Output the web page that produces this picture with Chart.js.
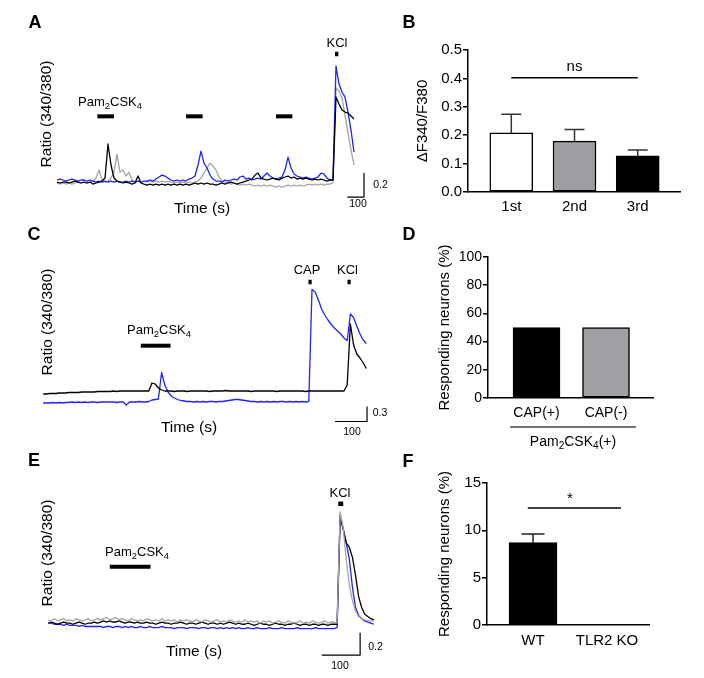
<!DOCTYPE html>
<html>
<head>
<meta charset="utf-8">
<script src="https://cdn.jsdelivr.net/npm/chart.js@4.4.0/dist/chart.umd.min.js"></script>
<style>
  body { margin: 0; background: #fff; width: 704px; height: 678px; position: relative; overflow: hidden; }
  canvas { position: absolute; }
</style>
</head>
<body>
<canvas id="cA" width="395" height="222" style="left:0;top:0"></canvas>
<canvas id="cB" width="309" height="225" style="left:395px;top:0"></canvas>
<canvas id="cC" width="395" height="223" style="left:0;top:222px"></canvas>
<canvas id="cD" width="309" height="225" style="left:395px;top:225px"></canvas>
<canvas id="cE" width="395" height="233" style="left:0;top:445px"></canvas>
<canvas id="cF" width="309" height="228" style="left:395px;top:450px"></canvas>
<script>
// ---- A: repeated Pam2CSK4 then KCl, ratio 340/380, one sample every 18 s
const stepA = 18;
const aBlue = [
  0.817,0.825,0.817,0.808,0.817,0.825,0.817,0.808,0.817,0.817,
  0.808,0.817,0.808,0.800,0.808,0.800,0.808,0.800,0.808,0.800,
  0.808,0.800,0.800,0.808,0.800,0.808,0.800,0.808,0.800,0.808,
  0.808,0.817,0.808,0.825,0.842,0.858,0.850,0.833,0.817,0.808,
  0.817,0.808,0.817,0.808,0.825,0.833,0.850,0.942,1.058,0.958,
  0.917,0.858,0.825,0.808,0.808,0.800,0.817,0.808,0.817,0.825,
  0.817,0.842,0.850,0.825,0.833,0.817,0.825,0.833,0.825,0.850,
  0.875,0.850,0.833,0.825,0.833,0.842,0.900,1.008,0.917,0.867,
  0.850,0.842,0.833,0.842,0.833,0.825,0.833,0.842,0.875,0.867,
  0.833,0.817,0.817,1.767,1.617,1.550,1.508,1.383,1.233,1.050];
const aBlack = [
  0.800,0.792,0.800,0.800,0.792,0.800,0.808,0.800,0.792,0.800,
  0.792,0.800,0.783,0.792,0.800,0.808,0.833,1.117,0.942,0.833,
  0.808,0.800,0.792,0.800,0.792,0.783,0.792,0.850,0.792,0.783,
  0.775,0.783,0.775,0.783,0.775,0.783,0.775,0.783,0.775,0.783,
  0.775,0.783,0.775,0.783,0.775,0.783,0.792,0.783,0.792,0.783,
  0.792,0.783,0.783,0.775,0.783,0.792,0.783,0.792,0.800,0.792,
  0.783,0.792,0.800,0.808,0.817,0.825,0.858,0.875,0.833,0.825,
  0.817,0.825,0.833,0.825,0.817,0.833,0.842,0.850,0.833,0.842,
  0.825,0.833,0.825,0.833,0.825,0.817,0.825,0.817,0.825,0.817,
  0.808,0.817,0.817,1.508,1.450,1.400,1.383,1.375,1.350,1.325];
const aGray = [
  0.792,0.783,0.792,0.783,0.792,0.783,0.792,0.800,0.792,0.800,
  0.792,0.800,0.808,0.833,0.900,0.817,0.800,0.808,0.833,0.883,
  1.033,0.883,0.900,0.850,0.883,0.817,0.800,0.808,0.800,0.808,
  0.800,0.808,0.800,0.808,0.800,0.808,0.800,0.808,0.800,0.792,
  0.800,0.792,0.800,0.792,0.800,0.792,0.800,0.808,0.833,0.875,
  0.917,0.958,0.933,0.900,0.842,0.808,0.800,0.792,0.783,0.792,
  0.783,0.775,0.783,0.775,0.783,0.775,0.767,0.775,0.767,0.775,
  0.767,0.775,0.767,0.758,0.767,0.758,0.767,0.775,0.767,0.775,
  0.767,0.775,0.767,0.775,0.783,0.775,0.783,0.775,0.783,0.775,
  0.783,0.783,0.792,1.583,1.558,1.500,1.358,1.208,1.067,0.942];
const pamA = [[242, 342], [774, 874], [1314, 1412]];  // s
const kclA = [[1668, 1688]];
const scaleA = [100, 0.2];

// ---- B: peak amplitude per application
const catsB = ['1st', '2nd', '3rd'];
const meanB = [0.208, 0.179, 0.127];
const semB = [0.066, 0.041, 0.021];

// ---- C: Pam2CSK4, capsaicin, KCl; one sample every 10 s
const stepC = 10;
const cBlue = [
  0.56,0.56,0.56,0.57,0.56,0.57,0.56,0.57,0.57,0.58,
  0.57,0.58,0.57,0.58,0.57,0.58,0.58,0.57,0.58,0.58,
  0.58,0.58,0.58,0.57,0.58,0.58,0.52,0.58,0.58,0.58,
  0.59,0.58,0.58,0.59,0.62,0.63,0.64,1.17,0.92,0.78,
  0.70,0.66,0.63,0.61,0.60,0.59,0.59,0.58,0.59,0.58,
  0.59,0.58,0.59,0.59,0.58,0.59,0.59,0.60,0.61,0.62,
  0.63,0.63,0.62,0.61,0.60,0.59,0.59,0.58,0.59,0.58,
  0.59,0.58,0.59,0.58,0.59,0.59,0.58,0.59,0.58,0.59,
  0.58,0.59,0.58,0.59,2.83,2.78,2.62,2.44,2.32,2.22,
  2.13,2.06,2.00,1.94,1.86,1.81,2.34,2.27,2.10,1.94,
  1.82,1.75];
const cBlack = [
  0.74,0.74,0.75,0.75,0.75,0.76,0.76,0.76,0.77,0.77,
  0.77,0.77,0.78,0.78,0.78,0.78,0.78,0.79,0.79,0.79,
  0.79,0.79,0.80,0.79,0.80,0.80,0.80,0.80,0.80,0.80,
  0.80,0.80,0.80,0.80,0.96,0.94,0.86,0.82,0.80,0.80,
  0.80,0.79,0.80,0.80,0.80,0.79,0.80,0.80,0.80,0.80,
  0.80,0.80,0.79,0.80,0.80,0.80,0.80,0.81,0.80,0.80,
  0.80,0.80,0.80,0.80,0.80,0.79,0.80,0.80,0.80,0.80,
  0.80,0.80,0.80,0.79,0.80,0.80,0.80,0.80,0.80,0.80,
  0.80,0.80,0.79,0.80,0.80,0.80,0.80,0.80,0.80,0.80,
  0.80,0.80,0.80,0.80,0.80,0.92,2.14,1.72,1.54,1.46,
  1.36,1.25];
const pamC = [[305, 398]];
const capC = [829, 839];
const kclC = [951, 961];
const scaleC = [100, 0.3];

// ---- D: share of Pam2CSK4 responders by capsaicin sensitivity
const catsD = ['CAP(+)', 'CAP(-)'];
const valsD = [50, 50];

// ---- E: TLR2 KO, one sample every 8 s
const stepE = 8;
const eBlack = [
  0.79,0.80,0.79,0.78,0.79,0.80,0.79,0.79,0.78,0.79,0.80,0.79,0.78,0.79,0.79,0.80,0.79,
  0.80,0.81,0.80,0.81,0.80,0.80,0.81,0.80,0.79,0.80,0.80,0.79,0.80,0.79,
  0.79,0.80,0.79,0.79,0.78,0.79,0.80,0.79,0.79,0.78,0.79,0.79,0.80,0.79,0.78,
  0.79,0.79,0.78,0.79,0.80,0.79,0.78,0.79,0.79,0.78,0.79,0.78,0.79,0.80,0.79,
  0.78,0.79,0.78,0.78,0.79,0.78,0.77,0.78,0.79,0.78,0.78,0.77,0.78,0.79,0.78,0.78,0.77,
  0.78,0.78,0.79,0.78,0.77,0.78,0.78,0.77,0.78,0.78,0.77,0.78,0.78,0.77,0.78,0.78,0.78,
  1.76,1.63,1.51,1.47,1.38,1.22,1.03,0.93,0.87,0.85,0.83,0.82];
const eBlue = [
  0.79,0.79,0.78,0.78,0.78,0.77,0.78,0.77,0.77,0.77,0.76,0.77,0.76,0.76,0.76,0.76,0.76,
  0.76,0.75,0.76,0.76,0.75,0.76,0.76,0.75,0.76,0.75,0.76,0.75,0.75,0.76,
  0.75,0.75,0.76,0.75,0.75,0.75,0.76,0.75,0.75,0.75,0.74,0.75,0.75,0.75,0.74,
  0.75,0.75,0.75,0.74,0.75,0.75,0.74,0.75,0.75,0.74,0.75,0.74,0.75,0.74,0.75,
  0.74,0.75,0.74,0.74,0.75,0.74,0.74,0.75,0.74,0.74,0.74,0.75,0.74,0.74,0.74,0.75,0.74,
  0.74,0.74,0.74,0.75,0.74,0.74,0.74,0.74,0.74,0.75,0.74,0.74,0.74,0.74,0.74,0.74,0.75,
  1.73,1.63,1.51,1.36,1.11,0.93,0.86,0.83,0.81,0.80,0.79,0.78];
const eGray = [
  0.82,0.81,0.83,0.81,0.82,0.83,0.81,0.82,0.81,0.83,0.82,0.81,0.82,0.83,0.81,0.82,0.83,
  0.82,0.83,0.84,0.82,0.83,0.84,0.82,0.83,0.82,0.81,0.83,0.82,0.81,0.82,
  0.81,0.83,0.82,0.81,0.82,0.81,0.83,0.81,0.82,0.81,0.82,0.80,0.82,0.81,0.82,
  0.81,0.80,0.82,0.81,0.80,0.82,0.81,0.80,0.81,0.82,0.80,0.81,0.80,0.82,0.81,
  0.80,0.81,0.80,0.82,0.80,0.81,0.80,0.81,0.79,0.81,0.80,0.81,0.79,0.80,0.81,0.80,0.79,
  0.81,0.80,0.79,0.80,0.81,0.79,0.80,0.79,0.81,0.80,0.79,0.80,0.81,0.79,0.80,0.80,0.79,
  1.79,1.64,1.36,1.13,0.99,0.90,0.85,0.83,0.82,0.81,0.81,0.81];
const pamE = [[160, 266]];
const kclE = [[755, 768]];
const scaleE = [100, 0.2];

// ---- F: responders WT vs TLR2 KO
const catsF = ['WT', 'TLR2 KO'];
const meanF = [8.7, 0];
const semF = [0.9, 0];

const FONT = '"Liberation Sans", Arial, Helvetica, sans-serif';
const BLUE = '#2222ff', GRAY = '#a4a4a4', BLACK = '#000000';
Chart.defaults.font.family = FONT;
Chart.defaults.color = '#000';

const PAM = [['Pam', 0], ['2', 1], ['CSK', 0], ['4', 1]];

function drawParts(ctx, parts, size, bold) {
  const fontFor = sub => (bold ? 'bold ' : '') + (sub ? size * 0.72 : size) + 'px ' + FONT;
  let w = 0;
  parts.forEach(([s, sub]) => { ctx.font = fontFor(sub); w += ctx.measureText(s).width; });
  let x = -w / 2;
  ctx.textAlign = 'left';
  ctx.textBaseline = 'middle';
  parts.forEach(([s, sub]) => {
    ctx.font = fontFor(sub);
    ctx.fillText(s, x, sub ? size * 0.32 : 0);
    x += ctx.measureText(s).width;
  });
}

// free text (panel letters, drug names, scale labels)
const notes = {
  id: 'notes',
  afterDraw(chart, args, opts) {
    const ctx = chart.ctx;
    (opts.items || []).forEach(it => {
      ctx.save();
      ctx.fillStyle = '#000';
      ctx.translate(it.x, it.y);
      if (it.rot) ctx.rotate(-Math.PI / 2);
      drawParts(ctx, it.parts || [[it.t, 0]], it.size || 13, it.bold);
      ctx.restore();
    });
  }
};

// SEM bars, upward only
const errBars = {
  id: 'errbar',
  afterDatasetsDraw(chart, args, opts) {
    if (!opts.sem) return;
    const { ctx, scales: { x, y } } = chart;
    ctx.save();
    ctx.strokeStyle = opts.color || '#000';
    ctx.lineWidth = 1.5;
    opts.sem.forEach((e, i) => {
      if (!e) return;
      const px = x.getPixelForValue(i + 1);
      const y0 = y.getPixelForValue(opts.mean[i]);
      const y1 = y.getPixelForValue(opts.mean[i] + e);
      ctx.beginPath();
      ctx.moveTo(px, y0); ctx.lineTo(px, y1);
      ctx.moveTo(px - opts.cap / 2, y1); ctx.lineTo(px + opts.cap / 2, y1);
      ctx.stroke();
    });
    ctx.restore();
  }
};

// comparison lines and group brackets
const sigLines = {
  id: 'sig',
  afterDatasetsDraw(chart, args, opts) {
    const { ctx, scales: { x, y }, chartArea } = chart;
    (opts.lines || []).forEach(l => {
      const x0 = x.getPixelForValue(l.from), x1 = x.getPixelForValue(l.to);
      const py = l.below != null ? chartArea.bottom + l.below : y.getPixelForValue(l.y);
      ctx.save();
      ctx.strokeStyle = l.color || '#000';
      ctx.lineWidth = 1.5;
      ctx.beginPath(); ctx.moveTo(x0, py); ctx.lineTo(x1, py); ctx.stroke();
      ctx.fillStyle = '#000';
      ctx.translate(x.getPixelForValue(l.labelX), py + l.dy);
      drawParts(ctx, l.parts, l.size || 15);
      ctx.restore();
    });
  }
};

function traceChart(p) {
  const line = (pts, color, w) => ({
    data: pts, borderColor: color, borderWidth: w, pointRadius: 0,
    tension: 0, borderCapStyle: 'butt', borderJoinStyle: 'round'
  });
  const ds = p.traces.map(([vals, color]) =>
    line(vals.map((v, i) => ({ x: i * p.step, y: v })), color, 1.3));
  p.stims.forEach(([t0, t1]) => ds.push(line([{ x: t0, y: p.stimY }, { x: t1, y: p.stimY }], '#000', 4)));
  p.marks.forEach(([t0, t1]) => ds.push(line([{ x: t0, y: p.markY }, { x: t1, y: p.markY }], '#000', 4.5)));
  const [dt, dr] = p.bar.len;
  ds.push(line([
    { x: p.bar.x0, y: p.bar.y0 },
    { x: p.bar.x0 + dt, y: p.bar.y0 },
    { x: p.bar.x0 + dt, y: p.bar.y0 + dr }
  ], '#000', 1.2));

  new Chart(document.getElementById(p.id), {
    type: 'line',
    data: { datasets: ds },
    options: {
      responsive: false, animation: false, devicePixelRatio: 1, events: [],
      layout: { padding: 0 },
      scales: {
        x: { type: 'linear', display: false, min: p.xMin, max: p.xMax },
        y: { type: 'linear', display: false, min: p.yMin, max: p.yMax }
      },
      plugins: { legend: { display: false }, tooltip: { enabled: false }, notes: { items: p.items } }
    },
    plugins: [notes]
  });
}

function barChart(p) {
  new Chart(document.getElementById(p.id), {
    type: 'bar',
    data: {
      datasets: [{
        data: p.vals.map((v, i) => ({ x: i + 1, y: v })),
        backgroundColor: p.colors, borderColor: '#000', borderWidth: 1.5,
        barThickness: p.barW, borderSkipped: false
      }]
    },
    options: {
      responsive: false, animation: false, devicePixelRatio: 1, events: [],
      layout: { padding: p.pad },
      scales: {
        x: {
          type: 'linear', offset: false, min: p.xMin, max: p.xMax,
          afterBuildTicks: s => { s.ticks = p.cats.map((c, i) => ({ value: i + 1 })); },
          afterFit: s => { s.height = p.xH; },
          grid: { display: false, drawTicks: false },
          border: { color: '#000', width: 1.5 },
          ticks: { autoSkip: false, maxRotation: 0, padding: p.xPad, font: { size: p.xFont },
                   callback: (v, i) => p.cats[i] }
        },
        y: {
          min: 0, max: p.yMax,
          afterFit: s => { s.width = p.yW; },
          ticks: { stepSize: p.yStep, padding: 1, font: { size: p.yFont }, callback: p.yFmt },
          grid: { drawOnChartArea: false, tickLength: 5, color: '#000', lineWidth: 1.5 },
          border: { color: '#000', width: 1.5 },
          title: { display: true, text: p.yTitle, font: { size: 15 }, padding: { top: 4, bottom: 0 } }
        }
      },
      plugins: {
        legend: { display: false }, tooltip: { enabled: false },
        notes: { items: p.items },
        errbar: { mean: p.vals, sem: p.sem, cap: p.cap, color: p.errColor },
        sig: { lines: p.sig }
      }
    },
    plugins: [errBars, sigLines, notes]
  });
}

traceChart({
  id: 'cA', step: stepA, xMin: -342, xMax: 2028, yMin: 0.467, yMax: 2.317,
  traces: [[aBlack, BLACK], [aBlue, BLUE], [aGray, GRAY]],
  stims: pamA, stimY: 1.3475, marks: kclA, markY: 1.867,
  bar: { x0: 1742, y0: 0.675, len: scaleA },
  items: [
    { t: 'A', x: 35, y: 23, size: 18, bold: true },
    { t: 'KCl', x: 337, y: 43 },
    { parts: PAM, x: 110, y: 102 },
    { t: 'Time (s)', x: 202, y: 209, size: 15.5 },
    { t: '0.2', x: 380.5, y: 185, size: 10.5 },
    { t: '100', x: 358, y: 204.5, size: 10.5 },
    { t: 'Ratio (340/380)', x: 47, y: 114, size: 15.5, rot: true }
  ]
});

traceChart({
  id: 'cC', step: stepC, xMin: -135, xMax: 1099.4, yMin: -0.28, yMax: 4.18,
  traces: [[cBlack, BLACK], [cBlue, BLUE]],
  stims: pamC, stimY: 1.706, marks: [capC, kclC], markY: 2.98,
  bar: { x0: 912, y0: 0.19, len: scaleC },
  items: [
    { t: 'C', x: 34, y: 13, size: 18, bold: true },
    { t: 'CAP', x: 307, y: 48 },
    { t: 'KCl', x: 347.5, y: 48 },
    { parts: PAM, x: 159, y: 108 },
    { t: 'Time (s)', x: 189, y: 206, size: 15.5 },
    { t: '0.3', x: 380, y: 191, size: 10.5 },
    { t: '100', x: 352, y: 210.5, size: 10.5 },
    { t: 'Ratio (340/380)', x: 48, y: 100, size: 15.5, rot: true }
  ]
});

traceChart({
  id: 'cE', step: stepE, xMin: -125.8, xMax: 902.8, yMin: 0.298, yMax: 2.3875,
  traces: [[eGray, GRAY], [eBlack, BLACK], [eBlue, BLUE]],
  stims: pamE, stimY: 1.296, marks: kclE, markY: 1.86,
  bar: { x0: 712, y0: 0.504, len: scaleE },
  items: [
    { t: 'E', x: 34, y: 16, size: 18, bold: true },
    { t: 'KCl', x: 340, y: 48 },
    { parts: PAM, x: 137, y: 107 },
    { t: 'Time (s)', x: 194, y: 207, size: 15.5 },
    { t: '0.2', x: 375.5, y: 202, size: 10.5 },
    { t: '100', x: 340, y: 221, size: 10.5 },
    { t: 'Ratio (340/380)', x: 48, y: 108, size: 15.5, rot: true }
  ]
});

barChart({
  id: 'cB', cats: catsB, vals: meanB, sem: semB, colors: ['#ffffff', '#9f9fa3', '#000000'],
  pad: { left: 15, top: 50, right: 24, bottom: 0 }, yW: 58, xH: 33,
  xMin: 0.315, xMax: 3.669, barW: 43, xPad: 6, xFont: 15,
  yMax: 0.5, yStep: 0.1, yFont: 15, yFmt: v => v.toFixed(1), yTitle: 'ΔF340/F380',
  cap: 20, errColor: '#333',
  sig: [{ from: 1, to: 3, y: 0.402, labelX: 2, dy: -11, parts: [['ns', 0]], size: 15 }],
  items: [{ t: 'B', x: 14, y: 23, size: 18, bold: true }]
});

barChart({
  id: 'cD', cats: catsD, vals: valsD, sem: null, colors: ['#000000', '#a0a0a4'],
  pad: { left: 37, top: 32, right: 51, bottom: 0 }, yW: 56, xH: 52,
  xMin: 0.302, xMax: 2.676, barW: 47, xPad: 7, xFont: 14,
  yMax: 100, yStep: 20, yFont: 14, yTitle: 'Responding neurons (%)',
  sig: [{ from: 0.62, to: 2.43, below: 29, color: '#444', labelX: 1.525, dy: 15,
          parts: PAM.concat([['(+)', 0]]), size: 14 }],
  items: [{ t: 'D', x: 14, y: 10, size: 18, bold: true }]
});

barChart({
  id: 'cF', cats: catsF, vals: meanF, sem: semF, colors: ['#000000', '#000000'],
  pad: { left: 37, top: 33, right: 55, bottom: 0 }, yW: 55, xH: 53,
  xMin: 0.378, xMax: 2.568, barW: 48, xPad: 7, xFont: 15,
  yMax: 15, yStep: 5, yFont: 15, yTitle: 'Responding neurons (%)',
  cap: 23, errColor: '#222',
  sig: [{ from: 0.93, to: 2.19, y: 12.35, labelX: 1.5, dy: -9, parts: [['*', 0]], size: 15 }],
  items: [{ t: 'F', x: 13, y: 12, size: 18, bold: true }]
});
</script>
</body>
</html>
